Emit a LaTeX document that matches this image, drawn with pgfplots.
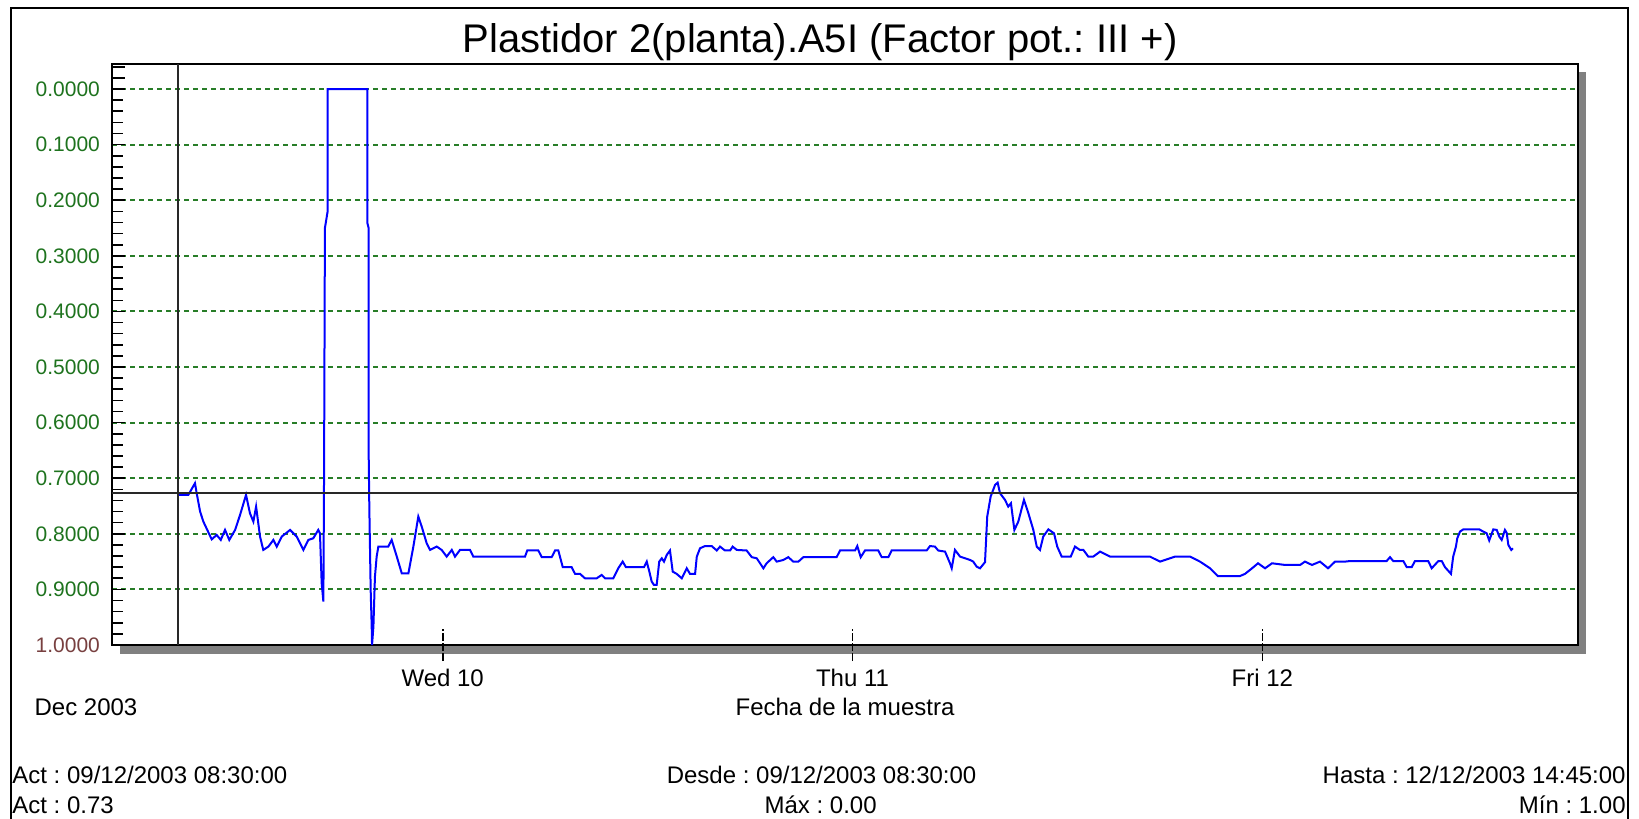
\documentclass[border=0pt]{standalone}
\usepackage{fontspec}
\setmainfont{Liberation Sans}
\usepackage{pgfplots}
\pgfplotsset{compat=1.18}
\frenchspacing
\definecolor{gridgreen}{RGB}{40,125,40}
\definecolor{labgreen}{RGB}{30,115,30}
\definecolor{labred}{RGB}{120,64,64}
\definecolor{shadowgray}{RGB}{128,128,128}
\definecolor{cursor}{RGB}{40,40,40}
\definecolor{trace}{RGB}{0,0,255}

\begin{document}
\begin{tikzpicture}
% page frame and shadow, in reference pixels (0.5pt each, y downwards)
\begin{scope}[x=0.5pt,y=-0.5pt]
\path[use as bounding box] (0,0) rectangle (1639,819);
\fill[white] (0,0) rectangle (1639,819);
\draw[line width=1pt] (11,819) -- (11,7.5) -- (1628,7.5) -- (1628,819);
\fill[shadowgray] (120,72) rectangle (1586,654);
\end{scope}

\begin{axis}[
  at={(56pt,-322.5pt)}, anchor=south west,
  width=733pt, height=290.5pt, scale only axis,
  xmin=4.63, xmax=90.49, ymin=-0.045, ymax=1, y dir=reverse,
  axis background/.style={fill=white},
  axis line style={line width=1pt},
  ytick={0,0.1,0.2,0.3,0.4,0.5,0.6,0.7,0.8,0.9,1},
  yticklabels={0.0000,0.1000,0.2000,0.3000,0.4000,0.5000,0.6000,0.7000,0.8000,0.9000,\textcolor{labred}{1.0000}},
  yticklabel style={text=labgreen, font=\fontsize{10.5}{12}\selectfont, xshift=-2.5pt},
  minor y tick num=4,
  extra y ticks={-0.02,-0.04}, extra y tick labels={}, extra y tick style={grid=none},
  ytick pos=left, xtick pos=bottom,
  tick align=inside,
  major tick length=6.5pt, minor tick length=5.5pt,
  tick style={black, line width=0.8pt},
  ymajorgrids,
  major grid style={gridgreen, line width=1pt, dash pattern=on 2.5pt off 2pt},
  xtick={24,48,72}, xticklabels={Wed 10,Thu 11,Fri 12},
  xticklabel style={anchor=base, yshift=-20.8pt, font=\fontsize{12}{14}\selectfont},
  xtick style={/pgfplots/major tick length=16pt, yshift=-8pt, dash pattern=on 4pt off 1pt},
]
\addplot[trace, line width=1pt] coordinates {
(8.5,0.730) (9.10,0.730) (9.49,0.709) (9.59,0.727) (9.79,0.760) (9.98,0.778)
(10.47,0.810) (10.76,0.802) (11.00,0.811) (11.25,0.793) (11.50,0.811) (11.84,0.793)
(12.13,0.766) (12.48,0.730) (12.71,0.763) (12.91,0.778) (13.07,0.751) (13.30,0.805)
(13.49,0.829) (13.79,0.823) (14.08,0.811) (14.28,0.823) (14.57,0.805) (15.06,0.793)
(15.45,0.805) (15.84,0.829) (16.13,0.811) (16.42,0.808) (16.71,0.793) (16.81,0.799)
(16.91,0.889) (17.01,0.922) (17.05,0.691) (17.10,0.25) (17.26,0.22) (17.26,0.0)
(19.58,0.0) (19.58,0.24) (19.66,0.25) (19.66,0.649) (19.70,0.751) (19.78,0.901)
(19.84,0.967) (19.86,1.0) (19.94,0.967) (20.03,0.877) (20.13,0.841) (20.23,0.823)
(20.81,0.823) (21.01,0.811) (21.31,0.841) (21.60,0.871) (21.99,0.871) (22.28,0.823)
(22.57,0.769) (22.77,0.787) (23.06,0.817) (23.26,0.829) (23.65,0.823) (23.94,0.829)
(24.23,0.841) (24.53,0.829) (24.72,0.841) (25.01,0.829) (25.60,0.829) (25.79,0.841)
(28.82,0.841) (28.95,0.830) (29.60,0.830) (29.80,0.842) (30.38,0.842) (30.58,0.830)
(30.77,0.830) (31.03,0.860) (31.55,0.860) (31.75,0.872) (32.04,0.872) (32.33,0.880)
(33.02,0.880) (33.31,0.874) (33.51,0.880) (33.99,0.880) (34.28,0.862) (34.54,0.850)
(34.73,0.860) (35.79,0.860) (35.95,0.850) (36.10,0.868) (36.24,0.886) (36.37,0.892)
(36.53,0.892) (36.68,0.850) (36.83,0.844) (36.96,0.850) (37.12,0.838) (37.31,0.830)
(37.47,0.868) (37.70,0.872) (38.00,0.880) (38.29,0.862) (38.48,0.872) (38.78,0.872)
(38.88,0.841) (39.07,0.826) (39.36,0.822) (39.75,0.822) (40.05,0.830) (40.24,0.823)
(40.53,0.830) (40.83,0.830) (40.98,0.823) (41.22,0.829) (41.80,0.830) (42.10,0.842)
(42.39,0.844) (42.78,0.862) (42.97,0.853) (43.36,0.842) (43.56,0.850) (43.95,0.847)
(44.24,0.842) (44.53,0.850) (44.83,0.850) (45.12,0.842) (47.07,0.842) (47.27,0.830)
(48.15,0.830) (48.28,0.822) (48.48,0.842) (48.73,0.830) (49.51,0.830) (49.71,0.842)
(50.10,0.842) (50.29,0.830) (52.34,0.830) (52.54,0.822) (52.83,0.823) (53.02,0.830)
(53.42,0.832) (53.71,0.853) (53.81,0.862) (54.00,0.829) (54.30,0.841) (54.88,0.847)
(55.07,0.850) (55.27,0.859) (55.47,0.862) (55.76,0.851) (55.89,0.769) (56.09,0.733)
(56.35,0.712) (56.50,0.708) (56.64,0.727) (56.93,0.739) (57.12,0.751) (57.28,0.745)
(57.48,0.793) (57.71,0.778) (58.04,0.739) (58.30,0.763) (58.59,0.793) (58.79,0.823)
(58.98,0.829) (59.17,0.805) (59.47,0.792) (59.80,0.799) (59.99,0.823) (60.25,0.841)
(60.78,0.841) (61.03,0.823) (61.32,0.829) (61.52,0.829) (61.81,0.841) (62.10,0.841)
(62.50,0.832) (63.08,0.841) (65.42,0.841) (66.01,0.850) (66.89,0.841) (67.77,0.841)
(68.35,0.850) (68.94,0.862) (69.40,0.876) (70.69,0.876) (70.99,0.872) (71.40,0.862)
(71.75,0.853) (72.16,0.862) (72.57,0.853) (73.33,0.856) (74.21,0.856) (74.50,0.850)
(74.91,0.856) (75.38,0.850) (75.85,0.862) (76.26,0.850) (76.84,0.850) (77.13,0.849)
(79.28,0.849) (79.48,0.842) (79.67,0.849) (80.26,0.849) (80.46,0.860) (80.75,0.860)
(80.94,0.849) (81.72,0.849) (81.92,0.862) (82.31,0.849) (82.51,0.849) (82.70,0.860)
(83.05,0.872) (83.18,0.841) (83.34,0.823) (83.42,0.808) (83.58,0.796) (83.77,0.792)
(84.71,0.792) (84.94,0.796) (85.14,0.799) (85.29,0.812) (85.53,0.792) (85.73,0.793)
(85.88,0.805) (86.02,0.811) (86.21,0.793) (86.31,0.798) (86.41,0.820) (86.58,0.829)
(86.68,0.826)
};
\addplot[cursor, line width=0.8pt] coordinates {(8.5,-0.045) (8.5,1)};
\addplot[cursor, line width=0.8pt] coordinates {(4.63,0.727) (90.49,0.727)};
\end{axis}

\begin{scope}[x=0.5pt,y=-0.5pt, every node/.style={inner sep=0pt, font=\fontsize{12}{14}\selectfont}]
\node[anchor=base, font=\fontsize{20}{24}\selectfont] at (820,52) {Plastidor 2(planta).A5I (Factor pot.: III +)};
\node[anchor=base] at (86,715) {Dec 2003};
\node[anchor=base] at (845,715) {Fecha de la muestra};
\node[anchor=base west] at (12,783) {Act : 09/12/2003 08:30:00};
\node[anchor=base west] at (12,813.6) {Act : 0.73};
\node[anchor=base] at (821.6,783) {Desde : 09/12/2003 08:30:00};
\node[anchor=base] at (820.6,813.6) {Máx : 0.00};
\node[anchor=base east] at (1626,783) {Hasta : 12/12/2003 14:45:00};
\node[anchor=base east] at (1626,813.6) {Mín : 1.00};
\end{scope}
\end{tikzpicture}
\end{document}
